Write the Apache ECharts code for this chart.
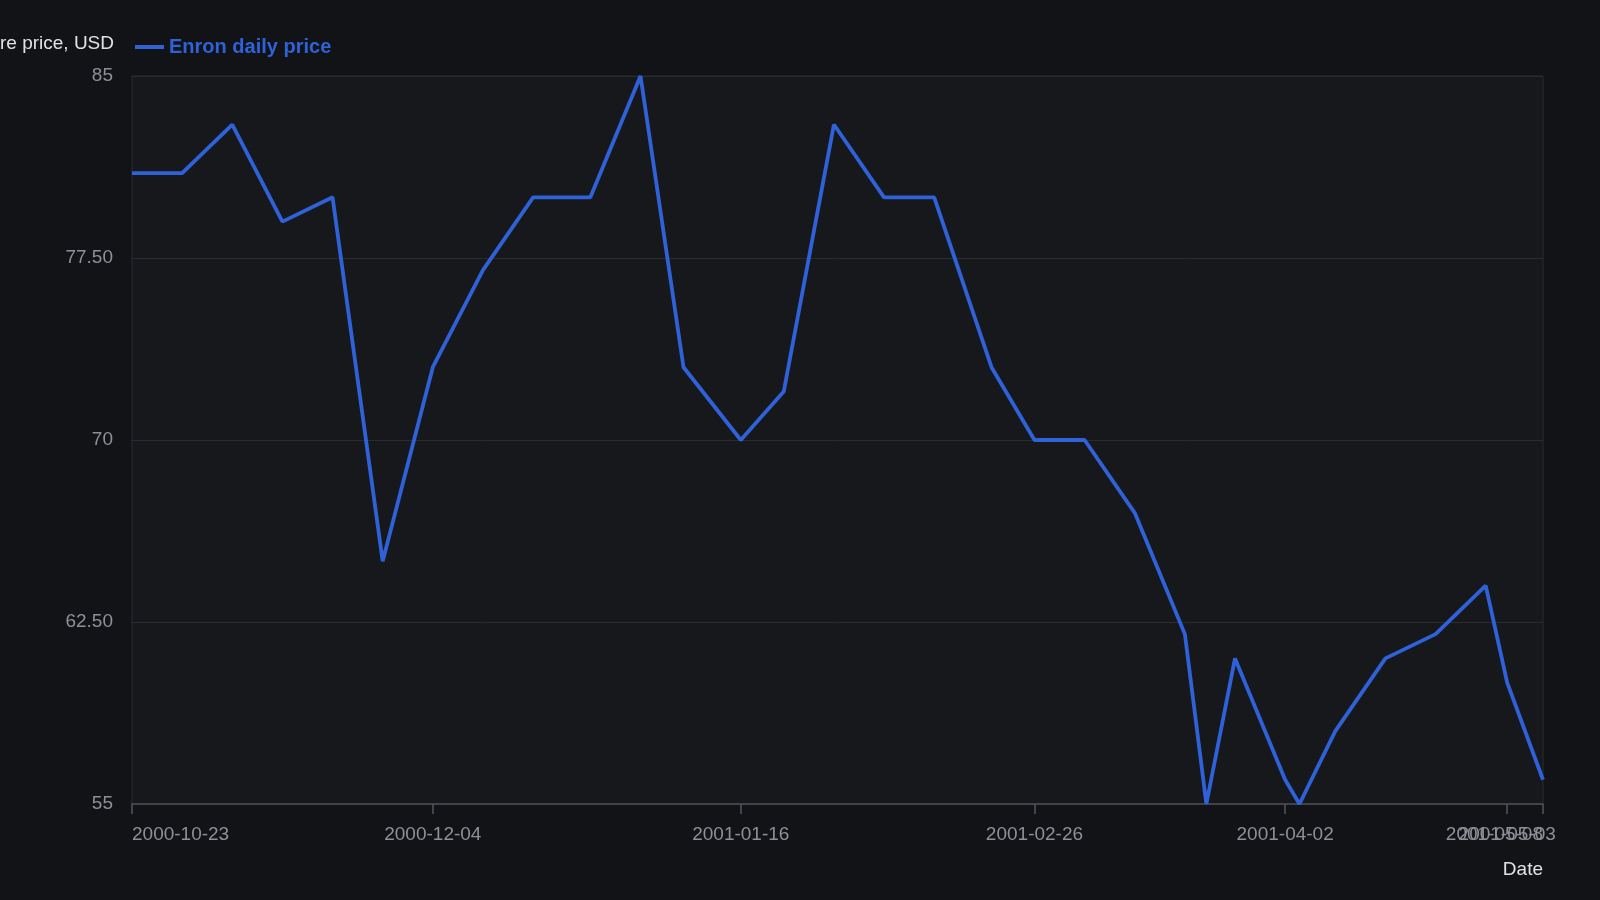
<!DOCTYPE html>
<html>
<head>
<meta charset="utf-8">
<title>Enron daily price</title>
<script src="https://cdn.jsdelivr.net/npm/echarts@6/dist/echarts.min.js"></script>
<style>
  html, body { margin: 0; padding: 0; background: #121317; }
  #chart { width: 1600px; height: 900px; }
</style>
</head>
<body>
<div id="chart"></div>
<script>
// weekly closing prices
const dates = [
  '2000-10-23', '2000-10-30', '2000-11-06', '2000-11-13', '2000-11-20', '2000-11-27',
  '2000-12-04', '2000-12-11', '2000-12-18', '2000-12-26', '2001-01-02', '2001-01-08',
  '2001-01-16', '2001-01-22', '2001-01-29', '2001-02-05', '2001-02-12', '2001-02-20',
  '2001-02-26', '2001-03-05', '2001-03-12', '2001-03-19', '2001-03-22', '2001-03-26',
  '2001-04-02', '2001-04-04', '2001-04-09', '2001-04-16', '2001-04-23', '2001-04-30',
  '2001-05-03', '2001-05-08'
]
const prices = [
  81, 81, 83, 79, 80, 65,
  73, 77, 80, 80, 85, 73,
  70, 72, 83, 80, 80, 73,
  70, 70, 67, 62, 55, 61,
  56, 55, 58, 61, 62, 64,
  60, 56
]
const xTickDates = ['2000-10-23', '2000-12-04', '2001-01-16', '2001-02-26', '2001-04-02', '2001-05-03']
const xEndTick = ['2001-05-08']
const yTicks = [55, 62.5, 70, 77.5, 85]

const parse = d => +echarts.number.parseDate(d)
const font = '"Liberation Sans", Arial, sans-serif'
const xMin = parse(dates[0])
const xMax = parse(dates[dates.length - 1])

const labelStyle = {
  hideOverlap: false,
  margin: 21,
  color: '#8d9097',
  fontSize: 19,
  fontFamily: font,
  formatter: v => echarts.time.format(v, '{yyyy}-{MM}-{dd}', false)
}
const tickStyle = { show: true, length: 10, lineStyle: { color: '#55575c', width: 1.5 } }

const chart = echarts.init(document.getElementById('chart'))
chart.setOption({
  backgroundColor: '#121317',
  animation: false,
  textStyle: { fontFamily: font },
  legend: {
    left: 130,
    top: 32,
    icon: 'rect',
    itemWidth: 29,
    itemHeight: 4,
    itemGap: 20,
    textStyle: {
      color: '#2f61d8',
      fontSize: 20,
      fontWeight: 'bold',
      fontFamily: font
    },
    data: ['Enron daily price']
  },
  grid: {
    left: 132,
    right: 57,
    top: 76,
    bottom: 96,
    outerBoundsMode: 'none',
    containLabel: false,
    show: true,
    backgroundColor: '#16181c',
    borderColor: '#2b2d32',
    borderWidth: 1
  },
  // dates are plotted as timestamps on value axes so the ticks can sit on chosen days;
  // the last date gets its own axis so its label is drawn even where it overlaps
  xAxis: [
    {
      type: 'value',
      min: xMin,
      max: xMax,
      position: 'bottom',
      name: 'Date',
      nameLocation: 'end',
      nameGap: 0,
      nameTextStyle: {
        color: '#e2e2e4',
        fontSize: 19,
        fontFamily: font,
        align: 'right',
        verticalAlign: 'top',
        padding: [56, 0, 0, 0]
      },
      axisLine: { show: true, lineStyle: { color: '#4a4c51', width: 1.5 } },
      axisTick: Object.assign({ customValues: xTickDates.map(parse) }, tickStyle),
      axisLabel: Object.assign({
        customValues: xTickDates.map(parse),
        showMinLabel: true,
        alignMinLabel: 'left'
      }, labelStyle),
      splitLine: { show: false }
    },
    {
      type: 'value',
      min: xMin,
      max: xMax,
      position: 'bottom',
      offset: 0,
      axisLine: { show: false },
      axisTick: Object.assign({ customValues: xEndTick.map(parse) }, tickStyle),
      axisLabel: Object.assign({
        customValues: xEndTick.map(parse),
        showMinLabel: true,
        showMaxLabel: true,
        align: 'right',
        alignMinLabel: 'right',
        alignMaxLabel: 'right'
      }, labelStyle),
      splitLine: { show: false }
    }
  ],
  yAxis: {
    type: 'value',
    min: 55,
    max: 85,
    name: 'Share price, USD',
    nameLocation: 'end',
    nameGap: 23,
    nameTextStyle: {
      color: '#e2e2e4',
      fontSize: 19,
      fontFamily: font,
      align: 'right',
      padding: [0, 18, 0, 0]
    },
    axisLine: { show: false },
    axisTick: { show: false, customValues: yTicks },
    axisLabel: {
      customValues: yTicks,
      margin: 19,
      color: '#8d9097',
      fontSize: 19,
      fontFamily: font,
      formatter: v => Number.isInteger(v) ? String(v) : v.toFixed(2)
    },
    splitLine: { show: true, lineStyle: { color: '#2a2c31', width: 1 } }
  },
  series: [
    {
      name: 'Enron daily price',
      type: 'line',
      xAxisIndex: 0,
      showSymbol: false,
      symbol: 'none',
      color: '#2f61d8',
      lineStyle: { color: '#2f61d8', width: 3.8 },
      data: dates.map((d, i) => [parse(d), prices[i]])
    }
  ]
})
</script>
</body>
</html>
